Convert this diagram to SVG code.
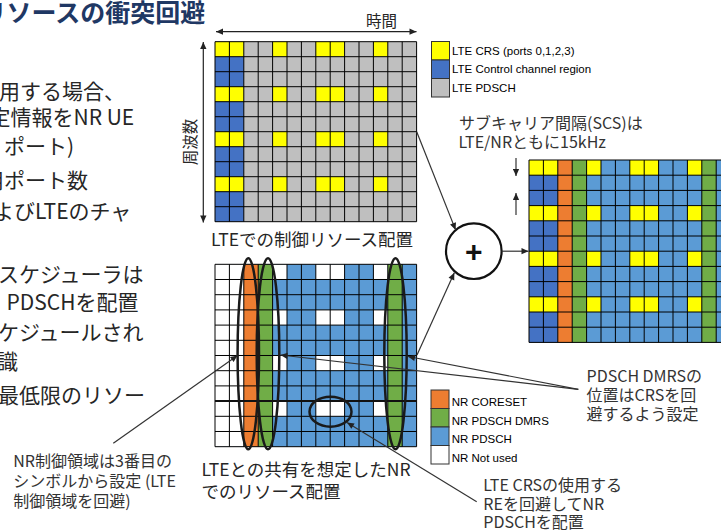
<svg xmlns="http://www.w3.org/2000/svg" width="721" height="532" viewBox="0 0 721 532">
<defs>
<style>
.jp{font-family:'Noto Sans CJK JP','Noto Sans',sans-serif;}
.title{font-size:25px;font-weight:bold;fill:#1F3864;}
.body{font-size:21px;fill:#262626;}
.cap{font-size:17.5px;fill:#262626;}
.note{font-size:16px;fill:#333;}
.lg{font-family:'Liberation Sans',Arial,sans-serif;font-size:11.5px;fill:#000;}
.y{fill:#FFFF00}.cb{fill:#4472C4}.gy{fill:#BFBFBF}.lb{fill:#5B9BD5}.or{fill:#ED7D31}.gr{fill:#70AD47}.w{fill:#FFFFFF}
.gl{fill:none;stroke:#000;stroke-width:1}
.sw{stroke:#333;stroke-width:1}
.ell{fill:none;stroke:#1a1a1a;stroke-width:2.5}
.con{fill:none;stroke:#333;stroke-width:1.2}
</style>
<path id="gridlines" class="gl" vector-effect="non-scaling-stroke" d="M0 0V12M1 0V12M2 0V12M3 0V12M4 0V12M5 0V12M6 0V12M7 0V12M8 0V12M9 0V12M10 0V12M11 0V12M12 0V12M13 0V12M14 0V12M0 0H14M0 1H14M0 2H14M0 3H14M0 4H14M0 5H14M0 6H14M0 7H14M0 8H14M0 9H14M0 10H14M0 11H14M0 12H14"/>
<g id="crs"><rect width="2" height="1"/><rect x="4" width="1" height="1"/><rect x="7" width="2" height="1"/><rect x="11" width="1" height="1"/></g>
<marker id="ah" viewBox="0 0 10 10" refX="10" refY="5" markerWidth="8" markerHeight="7" markerUnits="userSpaceOnUse" orient="auto-start-reverse"><path d="M0,0.5L10,5L0,9.5z" fill="#222"/></marker>
</defs>
<rect width="721" height="532" fill="#fff"/>

<g id="title"><text class="jp title" x="-18.5" y="22">リソースの衝突回避</text></g>

<g id="body-text" class="jp body">
<text x="-1" y="99">用する場合、</text>
<text x="-10.5" y="125">定情報をNR UE</text>
<text x="4" y="154">ポート)</text>
<text x="-17" y="188">用ポート数</text>
<text x="-7" y="219">よびLTEのチャ</text>
<text x="-2" y="282">スケジューラは</text>
<text x="6.5" y="310">PDSCHを配置</text>
<text x="-2" y="340">ケジュールされ</text>
<text x="-3" y="369">識</text>
<text x="-2" y="403">最低限のリソー</text>
</g>

<g id="lte-grid">
<g transform="translate(215 41.7) scale(14.4 15)">
<rect width="14" height="12" class="gy"/>
<rect width="2" height="12" class="cb"/>
<use href="#crs" class="y"/><use href="#crs" y="3" class="y"/><use href="#crs" y="6" class="y"/><use href="#crs" y="9" class="y"/>
<use href="#gridlines"/>
</g>
<text class="jp" x="366" y="27" font-size="15.5" fill="#262626">時間</text>
<text class="jp" transform="translate(195.5 142) rotate(-90)" text-anchor="middle" font-size="15.5" fill="#262626">周波数</text>
<text class="jp cap" x="211" y="245.5">LTEでの制御リソース配置</text>
</g>

<g id="nr-grid">
<g transform="translate(215 264.3) scale(14.4 15.2)">
<rect width="14" height="12" class="lb"/>
<rect width="2" height="12" class="w"/>
<rect x="2" width="1" height="12" class="or"/>
<rect x="3" width="1" height="12" class="gr"/>
<rect x="12" width="1" height="12" class="gr"/>
<use href="#crs" class="w"/><use href="#crs" y="3" class="w"/><use href="#crs" y="6" class="w"/><use href="#crs" y="9" class="w"/>
<use href="#gridlines"/>
</g>
<line x1="215" y1="401.1" x2="416.6" y2="401.1" stroke="#111" stroke-width="2"/>
<text class="jp cap" x="201.5" y="476">LTEとの共有を想定したNR</text>
<text class="jp cap" x="201.5" y="498">でのリソース配置</text>
</g>

<g id="highlights">
<ellipse class="ell" cx="248.3" cy="353.8" rx="10.7" ry="95.5"/>
<ellipse class="ell" cx="268" cy="353.8" rx="11.3" ry="95.5"/>
<ellipse class="ell" cx="395.5" cy="353.8" rx="11.2" ry="95.5"/>
<ellipse class="ell" cx="330.5" cy="411.7" rx="21" ry="15"/>
</g>

<g id="combined-grid">
<g transform="translate(529 160) scale(14.4 15.2)">
<rect width="14" height="12" class="lb"/>
<rect width="2" height="12" class="cb"/>
<rect x="2" width="1" height="12" class="or"/>
<rect x="3" width="1" height="12" class="gr"/>
<rect x="12" width="1" height="12" class="gr"/>
<use href="#crs" class="y"/><use href="#crs" y="3" class="y"/><use href="#crs" y="6" class="y"/><use href="#crs" y="9" class="y"/>
<use href="#gridlines"/>
</g>
</g>

<g id="sum-node">
<circle cx="473.8" cy="251.2" r="27.8" fill="#fff" stroke="#111" stroke-width="2.2"/>
<text x="473.8" y="261.5" text-anchor="middle" font-family="'Liberation Sans',Arial,sans-serif" font-size="30" font-weight="bold" fill="#111">+</text>
</g>

<g id="lte-legend">
<rect class="y sw" x="431.5" y="41.5" width="18" height="18.5"/>
<rect class="cb sw" x="431.5" y="60" width="18" height="18.5"/>
<rect class="gy sw" x="431.5" y="78.5" width="18" height="18.5"/>
<text class="lg" x="452" y="54.5">LTE CRS (ports 0,1,2,3)</text>
<text class="lg" x="452" y="73">LTE Control channel region</text>
<text class="lg" x="452" y="91.5">LTE PDSCH</text>
</g>

<g id="nr-legend">
<rect class="or sw" x="431" y="390" width="18" height="18.5"/>
<rect class="gr sw" x="431" y="408.5" width="18" height="18.5"/>
<rect class="lb sw" x="431" y="427" width="18" height="18.5"/>
<rect class="w sw" x="431" y="445.5" width="18" height="18.5"/>
<text class="lg" x="451.7" y="406">NR CORESET</text>
<text class="lg" x="451.7" y="424.5">NR PDSCH DMRS</text>
<text class="lg" x="451.7" y="443">NR PDSCH</text>
<text class="lg" x="451.7" y="461.5">NR Not used</text>
</g>

<g id="scs-note" class="jp note">
<text x="459" y="129">サブキャリア間隔(SCS)は</text>
<text x="458.5" y="148">LTE/NRともに15kHz</text>
</g>

<g id="dmrs-note" class="jp note">
<text x="586.5" y="382">PDSCH DMRSの</text>
<text x="586.5" y="401">位置はCRSを回</text>
<text x="586.5" y="420">避するよう設定</text>
</g>

<g id="crs-note" class="jp note">
<text x="483.3" y="491">LTE CRSの使用する</text>
<text x="483.3" y="509.5">REを回避してNR</text>
<text x="483.3" y="528">PDSCHを配置</text>
</g>

<g id="coreset-note" class="jp note">
<text x="13.3" y="467">NR制御領域は3番目の</text>
<text x="13.3" y="487">シンボルから設定 (LTE</text>
<text x="13.3" y="507">制御領域を回避)</text>
</g>

<g id="connectors" class="con">
<path d="M216 31.7H416.5" stroke="#222" marker-start="url(#ah)" marker-end="url(#ah)"/>
<path d="M203.3 42V222.5" stroke="#222" marker-start="url(#ah)" marker-end="url(#ah)"/>
<path d="M416.7 131.7L455.6 229.9" marker-end="url(#ah)"/>
<path d="M417 355L454.3 272.7" marker-end="url(#ah)"/>
<path d="M501.6 251.2H528.5" marker-end="url(#ah)"/>
<path d="M516 158V176" marker-end="url(#ah)"/>
<path d="M516 215V193" marker-end="url(#ah)"/>
<path d="M113.3 443.3L237.5 355.5" marker-end="url(#ah)"/>
<path d="M578.3 389.3L408 356.5" marker-end="url(#ah)"/>
<path d="M578.3 389.3L280.5 355" marker-end="url(#ah)"/>
<path d="M476.7 501.7L347 422.5" marker-end="url(#ah)"/>
</g>
</svg>
